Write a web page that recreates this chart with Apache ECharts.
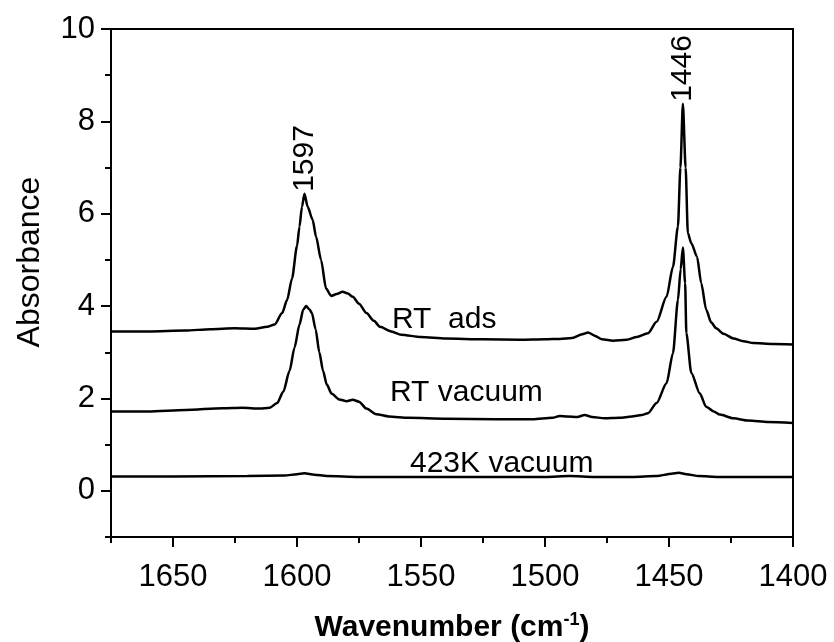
<!DOCTYPE html>
<html>
<head>
<meta charset="utf-8">
<script src="https://cdn.jsdelivr.net/npm/echarts@6/dist/echarts.min.js"></script>
<style>html,body{margin:0;padding:0;background:#fff}#c{width:834px;height:642px}</style>
</head>
<body>
<div id="c"></div>
<script>
// ---- data ----
const xTicksMajor = [1650, 1600, 1550, 1500, 1450, 1400];
const yTicksMajor = [0, 2, 4, 6, 8, 10];
const yTicksMinor = [-1, 1, 3, 5, 7, 9];

const adsWn = [1675,1660,1645,1635,1625,1617,1612,1609,1606,1604,1602,1600,1599,1598,1597,1595.7,1593.7,1592.3,1590.3,1588.3,1586.2,1584,1581.6,1579.5,1577.5,1575,1572,1569,1566.5,1562,1558,1550,1540,1525,1510,1500,1494,1489,1485,1482.6,1480,1477,1472.5,1467,1463,1458.5,1455,1451,1448.4,1446.4,1445.4,1444.4,1443.3,1442.4,1441,1438.7,1437,1435,1433,1431,1428,1424,1420,1416,1408,1400];
const adsAbs = [3.45,3.45,3.47,3.50,3.52,3.51,3.55,3.60,3.85,4.13,4.60,5.30,5.72,6.15,6.43,6.15,5.87,5.50,5.00,4.38,4.22,4.26,4.31,4.27,4.20,4.05,3.85,3.68,3.55,3.45,3.38,3.33,3.30,3.28,3.27,3.28,3.29,3.31,3.39,3.43,3.36,3.28,3.25,3.27,3.33,3.41,3.66,4.20,4.85,5.72,7.00,8.38,7.00,5.58,5.36,5.07,4.50,3.92,3.65,3.52,3.40,3.30,3.24,3.20,3.18,3.17];

const vacWn = [1675,1660,1645,1630,1622,1615,1611,1608,1605.5,1603,1601,1599,1597.5,1596.3,1595,1594,1592.5,1591,1589.5,1588,1586,1583,1580,1577.5,1575,1572,1568,1563,1555,1540,1520,1505,1497,1494,1491,1487,1484,1481,1476,1470,1465,1461,1458.5,1455,1451,1448.4,1446.4,1445.3,1444.4,1443.5,1443,1441,1437.6,1435,1432,1429.5,1424,1418,1410,1400];
const vacAbs = [1.72,1.72,1.75,1.79,1.80,1.78,1.80,1.90,2.15,2.60,3.10,3.60,3.92,4.00,3.93,3.85,3.50,3.00,2.60,2.30,2.10,1.98,1.94,1.97,1.93,1.78,1.66,1.61,1.58,1.56,1.55,1.55,1.58,1.62,1.61,1.60,1.64,1.60,1.57,1.58,1.61,1.64,1.68,1.90,2.33,2.98,4.13,4.80,5.27,4.50,3.41,2.55,2.11,1.82,1.72,1.65,1.57,1.52,1.49,1.47];

const hotWn = [1675,1650,1620,1605,1600,1597,1593,1588,1575,1550,1520,1500,1490,1480,1465,1455,1449,1446,1443,1438,1430,1415,1400];
const hotAbs = [0.31,0.31,0.32,0.33,0.36,0.38,0.35,0.32,0.30,0.30,0.30,0.30,0.32,0.30,0.30,0.32,0.37,0.39,0.36,0.32,0.30,0.30,0.30];

const seriesNames = ['RT  ads', 'RT vacuum', '423K vacuum'];
const peakLabels = [{wn: 1597, abs: 6.43, text: '1597'}, {wn: 1444.4, abs: 8.38, text: '1446'}];

// ---- chart ----
const FONT = 'Liberation Sans, Arial, sans-serif';
const pairs = (xs, ys) => xs.map((x, i) => [x, ys[i]]);
const chart = echarts.init(document.getElementById('c'), null, {renderer: 'canvas'});

const lineStyle = {color: '#000', width: 2.5};
const axisLineStyle = {color: '#000', width: 2};

const option = {
  animation: false,
  backgroundColor: '#fff',
  grid: {left: 111, right: 41, top: 29, bottom: 105, show: true, borderColor: '#000', borderWidth: 2,
    containLabel: false, outerBoundsMode: 'none'},
  xAxis: [{
    type: 'value', inverse: true, min: 1400, max: 1675, interval: 25,
    axisLine: {show: true, onZero: false, lineStyle: axisLineStyle},
    axisTick: {show: true, length: 6, lineStyle: axisLineStyle},
    axisLabel: {fontFamily: FONT, fontSize: 31, color: '#000', margin: 25,
      formatter: v => (v % 50 === 0 ? String(v) : '')},
    splitLine: {show: false},
    name: '{b|Wavenumber (cm}{s|-1}{b|)}', nameLocation: 'middle', nameGap: 74,
    nameTextStyle: {rich: {
      b: {fontFamily: FONT, fontSize: 30, fontWeight: 'bold', color: '#000'},
      s: {fontFamily: FONT, fontSize: 18, fontWeight: 'bold', color: '#000', verticalAlign: 'top', padding: [0, 0, 15, 0]}
    }}
  }, {
    type: 'value', inverse: true, min: 1400, max: 1675, position: 'bottom',
    axisLine: {show: false, onZero: false},
    axisTick: {show: true, length: 10, lineStyle: axisLineStyle, customValues: xTicksMajor},
    axisLabel: {show: false}, splitLine: {show: false}
  }],
  yAxis: [{
    type: 'value', min: -1, max: 10, interval: 1,
    axisLine: {show: true, onZero: false, lineStyle: axisLineStyle},
    axisTick: {show: true, length: 10, lineStyle: axisLineStyle, customValues: yTicksMajor},
    axisLabel: {fontFamily: FONT, fontSize: 31, color: '#000', margin: 16, customValues: yTicksMajor},
    splitLine: {show: false}
  }, {
    type: 'value', min: -1, max: 10, position: 'left',
    axisLine: {show: false, onZero: false},
    axisTick: {show: true, length: 6, lineStyle: axisLineStyle, customValues: yTicksMinor},
    axisLabel: {show: false}, splitLine: {show: false}
  }],
  graphic: [
    {type: 'text', x: 30, y: 262, rotation: Math.PI / 2,
      style: {text: 'Absorbance', font: '32px ' + FONT, fill: '#000', align: 'center', verticalAlign: 'middle'}},
    {type: 'text', x: 392, y: 320, style: {text: seriesNames[0], font: '30px ' + FONT, fill: '#000', align: 'left', verticalAlign: 'middle'}},
    {type: 'text', x: 390, y: 393, style: {text: seriesNames[1], font: '30px ' + FONT, fill: '#000', align: 'left', verticalAlign: 'middle'}},
    {type: 'text', x: 410, y: 464, style: {text: seriesNames[2], font: '30px ' + FONT, fill: '#000', align: 'left', verticalAlign: 'middle'}}
  ],
  series: [
    {name: seriesNames[0], type: 'line', data: pairs(adsWn, adsAbs), showSymbol: false, lineStyle, smooth: 0.25, smoothMonotone: 'x',
      markPoint: {symbol: 'circle', symbolSize: 0, silent: true,
        data: peakLabels.map(p => ({coord: [p.wn, p.abs], value: p.text})),
        label: {show: true, formatter: p => p.value, rotate: 90, position: 'top', distance: 2, align: 'left', verticalAlign: 'middle',
          fontFamily: FONT, fontSize: 30, color: '#000'}}},
    {name: seriesNames[1], type: 'line', data: pairs(vacWn, vacAbs), showSymbol: false, lineStyle, smooth: 0.25, smoothMonotone: 'x'},
    {name: seriesNames[2], type: 'line', data: pairs(hotWn, hotAbs), showSymbol: false, lineStyle, smooth: 0.25, smoothMonotone: 'x'}
  ]
};
chart.setOption(option);
</script>
</body>
</html>
